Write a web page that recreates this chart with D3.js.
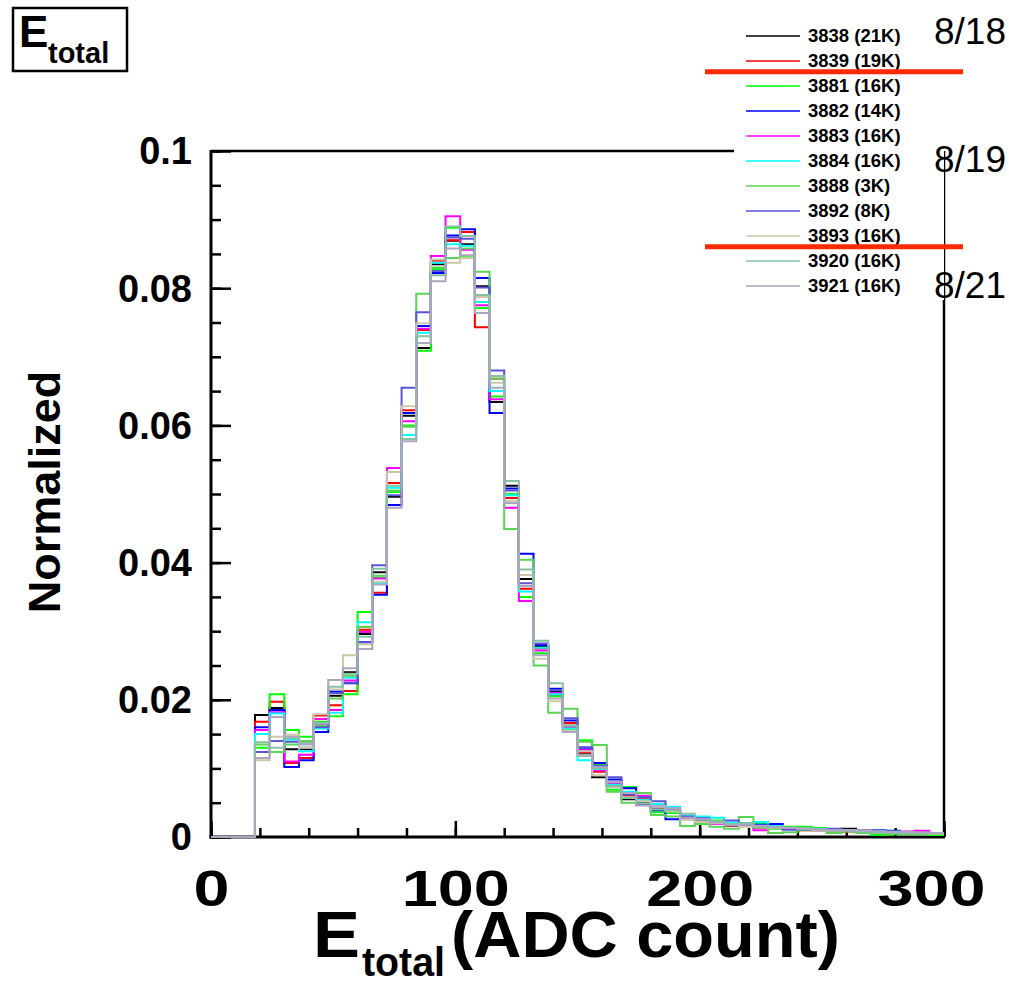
<!DOCTYPE html>
<html>
<head>
<meta charset="utf-8">
<script src="https://cdn.jsdelivr.net/npm/d3@7"></script>
<style>
  html, body { margin: 0; padding: 0; background: #fff; }
  svg { display: block; font-family: "Liberation Sans", Arial, Helvetica, sans-serif; }
</style>
</head>
<body>
<svg id="chart" width="1009" height="981"></svg>
<script>
// ---------------- DATA ----------------
const binWidth = 6;          // ADC counts per bin
const xTickValues = [0, 100, 200, 300];
const xTickLabels = ["0", "100", "200", "300"];
const yTickValues = [0, 0.02, 0.04, 0.06, 0.08, 0.1];
const yTickLabels = ["0", "0.02", "0.04", "0.06", "0.08", "0.1"];

const runNames = ["3838 (21K)", "3839 (19K)", "3881 (16K)", "3882 (14K)", "3883 (16K)",
                  "3884 (16K)", "3888 (3K)", "3892 (8K)", "3893 (16K)", "3920 (16K)", "3921 (16K)"];
const runColors = ["#000000", "#ff0000", "#00ff00", "#0000ff", "#ff00ff",
                   "#00ffff", "#59d454", "#5954d8", "#ccc7ab", "#85c2a3", "#aba6bf"];
const dateLabels = ["8/18", "8/19", "8/21"];

const run3838 = [0,0,0,.0178,.0188,.0128,.0128,.0163,.0206,.0240,.0296,.0386,.0496,.0614,.0713,.0835,.0869,.0864,.0803,.0634,.0512,.0376,.0278,.0213,.0162,.0122,.0087,.0075,.0055,.0050,.0042,.0036,.0028,.0024,.0022,.0018,.0020,.0016,.0015,.0013,.0011,.0011,.0010,.0012,.0009,.0008,.0007,.0007,.0006,.0006];
const run3839 = [0,0,0,.0168,.0197,.0108,.0115,.0177,.0192,.0213,.0302,.0356,.0516,.0622,.0739,.0840,.0870,.0882,.0743,.0668,.0494,.0362,.0275,.0206,.0166,.0123,.0095,.0073,.0060,.0055,.0044,.0038,.0030,.0026,.0020,.0016,.0016,.0014,.0013,.0012,.0010,.0010,.0009,.0008,.0008,.0007,.0008,.0006,.0007,.0005];
const run3881 = [0,0,0,.0130,.0208,.0156,.0146,.0168,.0176,.0208,.0328,.0378,.0503,.0600,.0709,.0828,.0888,.0845,.0771,.0642,.0500,.0350,.0268,.0205,.0157,.0141,.0106,.0069,.0073,.0052,.0036,.0035,.0026,.0022,.0024,.0020,.0019,.0019,.0012,.0015,.0015,.0013,.0011,.0009,.0008,.0003,.0004,.0005,.0004,.0003];
const run3882 = [0,0,0,.0160,.0185,.0102,.0112,.0153,.0212,.0224,.0284,.0353,.0484,.0618,.0745,.0822,.0877,.0886,.0815,.0618,.0508,.0413,.0280,.0216,.0170,.0130,.0108,.0084,.0071,.0047,.0039,.0026,.0029,.0025,.0021,.0017,.0018,.0018,.0019,.0011,.0012,.0011,.0010,.0010,.0009,.0010,.0009,.0007,.0006,.0006];
const run3883 = [0,0,0,.0156,.0182,.0110,.0120,.0172,.0185,.0228,.0299,.0377,.0538,.0606,.0741,.0847,.0905,.0856,.0775,.0638,.0480,.0344,.0272,.0210,.0160,.0127,.0097,.0078,.0063,.0060,.0046,.0040,.0027,.0028,.0019,.0019,.0017,.0010,.0014,.0012,.0011,.0010,.0011,.0009,.0009,.0008,.0007,.0008,.0009,.0006];
const run3884 = [0,0,0,.0150,.0180,.0142,.0125,.0158,.0181,.0232,.0313,.0370,.0509,.0586,.0735,.0837,.0864,.0862,.0780,.0650,.0498,.0358,.0276,.0208,.0158,.0112,.0099,.0076,.0066,.0054,.0048,.0044,.0031,.0030,.0028,.0021,.0020,.0022,.0016,.0013,.0012,.0012,.0010,.0010,.0008,.0009,.0008,.0007,.0006,.0005];
const run3888 = [0,0,0,.0135,.0124,.0135,.0140,.0162,.0202,.0235,.0306,.0381,.0505,.0598,.0792,.0830,.0844,.0858,.0824,.0668,.0449,.0404,.0250,.0181,.0187,.0139,.0134,.0066,.0050,.0064,.0032,.0030,.0016,.0019,.0015,.0012,.0029,.0014,.0006,.0007,.0010,.0010,.0006,.0008,.0006,.0005,.0005,.0004,.0004,.0004];
const run3892 = [0,0,0,.0124,.0140,.0139,.0130,.0160,.0210,.0225,.0284,.0396,.0498,.0655,.0765,.0825,.0874,.0872,.0801,.0680,.0505,.0370,.0282,.0214,.0173,.0131,.0104,.0087,.0062,.0058,.0052,.0041,.0030,.0027,.0022,.0024,.0016,.0017,.0014,.0012,.0011,.0011,.0012,.0009,.0009,.0009,.0008,.0007,.0006,.0006];
const run3893 = [0,0,0,.0112,.0146,.0149,.0130,.0179,.0215,.0265,.0281,.0372,.0532,.0628,.0749,.0842,.0837,.0844,.0787,.0662,.0490,.0382,.0260,.0198,.0155,.0125,.0090,.0072,.0058,.0052,.0045,.0037,.0025,.0022,.0020,.0018,.0015,.0016,.0013,.0013,.0012,.0010,.0009,.0010,.0009,.0008,.0007,.0007,.0006,.0005];
const run3920 = [0,0,0,.0138,.0130,.0144,.0137,.0166,.0219,.0238,.0292,.0391,.0512,.0580,.0730,.0819,.0890,.0876,.0790,.0672,.0519,.0390,.0286,.0224,.0162,.0118,.0100,.0074,.0057,.0049,.0040,.0039,.0034,.0025,.0023,.0019,.0020,.0015,.0015,.0014,.0013,.0011,.0010,.0009,.0008,.0006,.0006,.0006,.0005,.0006];
const run3921 = [0,0,0,.0115,.0175,.0146,.0135,.0165,.0229,.0246,.0274,.0368,.0480,.0577,.0720,.0810,.0858,.0848,.0764,.0655,.0487,.0366,.0265,.0202,.0153,.0120,.0102,.0080,.0064,.0046,.0043,.0042,.0028,.0026,.0021,.0017,.0018,.0016,.0014,.0013,.0012,.0011,.0010,.0010,.0009,.0008,.0007,.0007,.0007,.0006];

const runSeries = [run3838, run3839, run3881, run3882, run3883, run3884,
                   run3888, run3892, run3893, run3920, run3921];

// ---------------- LAYOUT ----------------
const svg = d3.select("#chart");
const X0 = 211, X1 = 944, Y0 = 837, Y1 = 151;
const x = d3.scaleLinear().domain([0, 300]).range([X0, X1]);
const y = d3.scaleLinear().domain([0, 0.1]).range([Y0, Y1]);

// frame
svg.append("line").attr("x1", X0).attr("x2", X1).attr("y1", Y1).attr("y2", Y1)
  .attr("stroke", "#000").attr("stroke-width", 2.5);
svg.append("line").attr("x1", X1).attr("x2", X1).attr("y1", Y1).attr("y2", Y0)
  .attr("stroke", "#000").attr("stroke-width", 2.5);

// Y axis: minor then major
const yMinor = d3.range(0, 0.1001, 0.005);
svg.append("g").attr("transform", `translate(${X0},0)`)
  .call(d3.axisLeft(y).tickValues(yMinor).tickSize(-10).tickFormat(""))
  .call(g => g.select(".domain").remove())
  .call(g => g.selectAll("line").attr("stroke-width", 2.5));
const yAx = svg.append("g").attr("transform", `translate(${X0},0)`)
  .call(d3.axisLeft(y).tickValues(yTickValues).tickSize(-20).tickPadding(19)
        .tickFormat((d, i) => yTickLabels[i]));
yAx.select(".domain").remove();
yAx.selectAll("line").attr("stroke-width", 2.5);
yAx.selectAll("text").attr("font-size", 38).attr("font-weight", "bold")
  .attr("font-family", "Liberation Sans, Arial, sans-serif").attr("dy", "0.34em").attr("fill", "#000");

// X axis
const xMinor = d3.range(0, 301, 20);
svg.append("g").attr("transform", `translate(0,${Y0})`)
  .call(d3.axisBottom(x).tickValues(xMinor).tickSize(-9).tickFormat(""))
  .call(g => g.select(".domain").remove())
  .call(g => g.selectAll("line").attr("stroke-width", 2.5));
const xAx = svg.append("g").attr("transform", `translate(0,${Y0})`)
  .call(d3.axisBottom(x).tickValues(xTickValues).tickSize(-16).tickPadding(33)
        .tickFormat((d, i) => xTickLabels[i]));
xAx.select(".domain").remove();
xAx.selectAll("line").attr("stroke-width", 2.5);
xAx.selectAll("text").attr("font-size", 50).attr("font-weight", "bold")
  .attr("font-family", "Liberation Sans, Arial, sans-serif").attr("fill", "#000")
  .attr("lengthAdjust", "spacingAndGlyphs")
  .attr("textLength", (d, i) => xTickLabels[i].length * 36)
  .attr("x", (d, i) => i === 3 ? -13 : 0);

// axis lines (thick)
svg.append("line").attr("x1", X0).attr("x2", X0).attr("y1", Y1 - 1).attr("y2", Y0 + 1.5)
  .attr("stroke", "#000").attr("stroke-width", 3);
svg.append("line").attr("x1", X0 - 1.5).attr("x2", X1 + 1).attr("y1", Y0).attr("y2", Y0)
  .attr("stroke", "#000").attr("stroke-width", 3);

// histograms (drawn over the axes, as in the original)
const line = d3.line().x(d => x(d[0])).y(d => y(d[1])).curve(d3.curveStepAfter);
const gH = svg.append("g");
runSeries.forEach((vals, i) => {
  const pts = vals.map((v, b) => [b * binWidth, v]);
  pts.push([vals.length * binWidth, vals[vals.length - 1]]);
  gH.append("path")
    .attr("d", line(pts))
    .attr("fill", "none")
    .attr("stroke", runColors[i])
    .attr("stroke-width", 2);
});

// Axis titles
svg.append("text").attr("transform", "translate(60,492) rotate(-90)")
  .attr("text-anchor", "middle").attr("font-size", 45).attr("font-weight", "bold")
  .text("Normalized");
const xt = svg.append("g").attr("font-weight", "bold");
xt.append("text").attr("x", 313).attr("y", 957).attr("font-size", 64)
  .attr("textLength", 47).attr("lengthAdjust", "spacingAndGlyphs").text("E");
xt.append("text").attr("x", 362).attr("y", 976).attr("font-size", 40)
  .attr("textLength", 83).attr("lengthAdjust", "spacingAndGlyphs").text("total");
xt.append("text").attr("x", 451).attr("y", 957).attr("font-size", 64)
  .attr("textLength", 389).attr("lengthAdjust", "spacingAndGlyphs").text("(ADC count)");

// Title box
svg.append("rect").attr("x", 13).attr("y", 8).attr("width", 114).attr("height", 63)
  .attr("fill", "#fff").attr("stroke", "#000").attr("stroke-width", 2.5);
svg.append("text").attr("x", 19).attr("y", 47).attr("font-size", 44).attr("font-weight", "bold").text("E");
svg.append("text").attr("x", 48).attr("y", 63).attr("font-size", 29).attr("font-weight", "bold").text("total");

// Legend
svg.append("rect").attr("x", 734).attr("y", 14).attr("width", 210).attr("height", 286).attr("fill", "#fff");
const legY = d3.scaleLinear().domain([0, 10]).range([36, 286]);
const gL = svg.append("g");
runNames.forEach((nm, i) => {
  gL.append("line").attr("x1", 746).attr("x2", 800).attr("y1", legY(i)).attr("y2", legY(i))
    .attr("stroke", runColors[i]).attr("stroke-width", 1.5);
  gL.append("text").attr("x", 808).attr("y", legY(i) + 6).attr("font-size", 18.5)
    .attr("font-weight", "bold").attr("fill", "#000").text(nm);
});
// separators
[71.7, 246.7].forEach(yy => {
  svg.append("line").attr("x1", 705).attr("x2", 963).attr("y1", yy).attr("y2", yy)
    .attr("stroke", "#ff2a00").attr("stroke-width", 5);
});
// dates
[44, 172, 298].forEach((yy, i) => {
  svg.append("text").attr("x", 934).attr("y", yy).attr("font-size", 37)
    .attr("font-family", "Liberation Sans, Arial, sans-serif").attr("fill", "#000").text(dateLabels[i]);
});
</script>
</body>
</html>
